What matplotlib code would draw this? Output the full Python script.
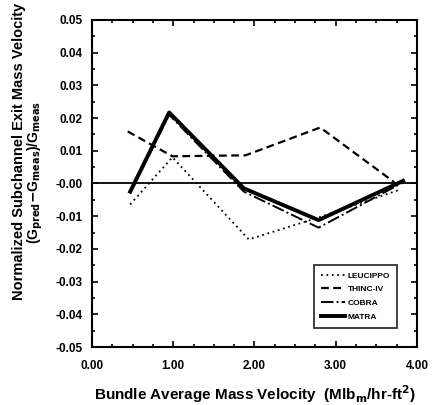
import matplotlib
matplotlib.use("Agg")
import matplotlib.pyplot as plt
from matplotlib.ticker import MultipleLocator, FormatStrFormatter

plt.rcParams['font.family'] = ['Liberation Sans', 'DejaVu Sans']
plt.rcParams['font.weight'] = 'bold'

# bundle average mass velocity (Mlbm/hr-ft2)
x_leucippo = [0.47, 0.99, 1.93, 2.79, 3.80]
y_leucippo = [-0.0064, 0.0080, -0.0171, -0.0104, -0.0018]

x_thinc = [0.44, 0.99, 1.89, 2.81, 3.72]
y_thinc = [0.0159, 0.0083, 0.0086, 0.0171, 0.0004]

x_cobra = [0.47, 0.95, 1.87, 2.79, 3.82]
y_cobra = [-0.0030, 0.0210, -0.0025, -0.0135, 0.0002]

x_matra = [0.47, 0.95, 1.87, 2.79, 3.83]
y_matra = [-0.0025, 0.0217, -0.0015, -0.0112, 0.0008]

fig = plt.figure(figsize=(4.37, 4.05), dpi=100)
ax = fig.add_axes([0.2105, 0.143, 0.7435, 0.808])

ax.axhline(0, color='black', lw=1.3)
ax.plot(x_leucippo, y_leucippo, color='black', lw=1.3, ls=(0, (1, 2)), label='LEUCIPPO')
ax.plot(x_thinc, y_thinc, color='black', lw=1.6, ls=(0, (3.5, 2)), label='THINC-IV')
ax.plot(x_cobra, y_cobra, color='black', lw=1.4, ls='-.', label='COBRA')
ax.plot(x_matra, y_matra, color='black', lw=2.8, label='MATRA')

ax.set_xlim(0, 4)
ax.set_ylim(-0.05, 0.05)
ax.xaxis.set_major_locator(MultipleLocator(1))
ax.xaxis.set_minor_locator(MultipleLocator(0.25))
ax.yaxis.set_major_locator(MultipleLocator(0.01))
ax.yaxis.set_minor_locator(MultipleLocator(0.005))
ax.xaxis.set_major_formatter(FormatStrFormatter('%.2f'))
ax.yaxis.set_major_formatter(FormatStrFormatter('%.2f'))
ax.tick_params(which='both', direction='in', top=True, right=True, labelsize=8.5, width=1.2)
ax.tick_params(which='major', length=4)
ax.tick_params(which='minor', length=2.5)
ax.tick_params(axis='y', pad=7)
ax.tick_params(axis='x', pad=9)
for s in ax.spines.values():
    s.set_linewidth(1.5)

ax.set_xlabel('Bundle Average Mass Velocity  (Mlb$_\\mathbf{m}$/hr-ft$^\\mathbf{2}$)',
              fontsize=11, fontweight='bold', va='center')
ax.xaxis.set_label_coords(0.5, -0.145)

fig.text(0.043, 0.627, 'Normalized Subchannel Exit Mass Velocity', rotation=90,
         ha='center', va='center', fontsize=10.5, fontweight='bold')
fig.text(0.081, 0.575, '(G$_\\mathbf{pred}$$-$G$_\\mathbf{meas}$)/G$_\\mathbf{meas}$', rotation=90,
         ha='center', va='center', fontsize=10, fontweight='bold')

leg = ax.legend(loc='lower right', bbox_to_anchor=(0.94, 0.058), fontsize=6,
                frameon=True, fancybox=False, handlelength=2.8, borderpad=0.85,
                labelspacing=0.72, handletextpad=0.4, borderaxespad=0)
leg.get_frame().set_edgecolor('black')
leg.get_frame().set_linewidth(1.3)

fig.savefig('out.png', dpi=100)
